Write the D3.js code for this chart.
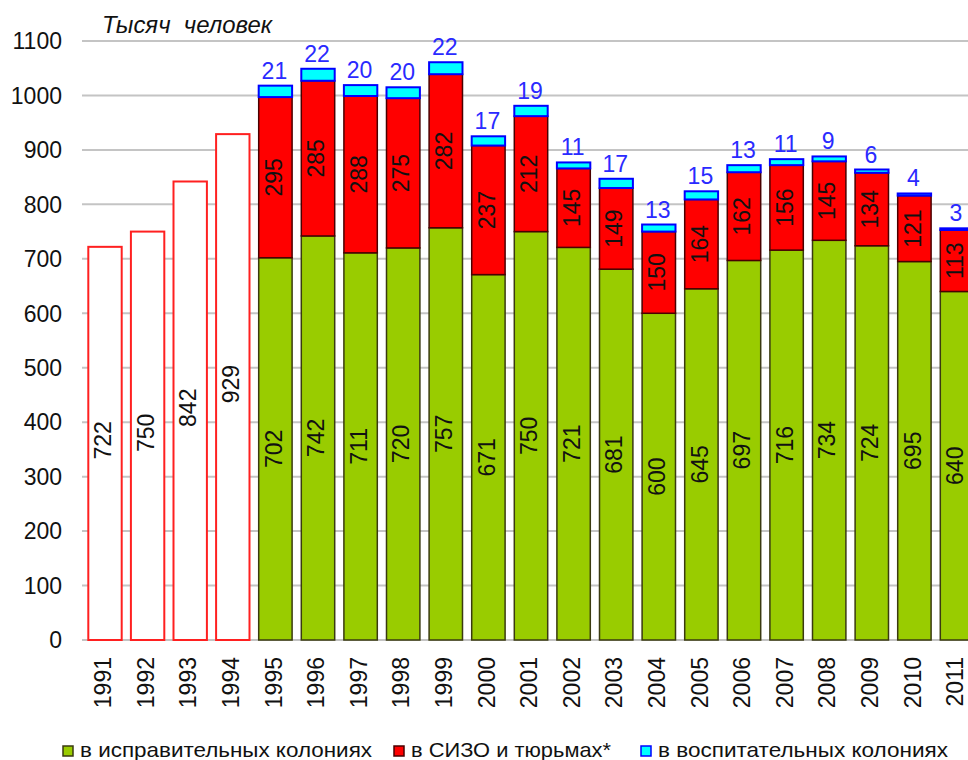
<!DOCTYPE html>
<html>
<head>
<meta charset="utf-8">
<script src="https://cdn.jsdelivr.net/npm/d3@7"></script>
<style>
  body { margin: 0; background: #fff; }
  text { font-family: "Liberation Sans", Arial, sans-serif; }
</style>
</head>
<body>
<div id="chart"></div>
<script>
// years on the x axis
const years = ['1991', '1992', '1993', '1994', '1995', '1996', '1997', '1998', '1999', '2000',
  '2001', '2002', '2003', '2004', '2005', '2006', '2007', '2008', '2009', '2010', '2011'];
// 1991-1994: only the total is known
const total_years = ['1991', '1992', '1993', '1994'];
const total_values = [722, 750, 842, 929];
// 1995-2011: split by type of institution
const split_years = ['1995', '1996', '1997', '1998', '1999', '2000', '2001', '2002', '2003',
  '2004', '2005', '2006', '2007', '2008', '2009', '2010', '2011'];
const colonies = [702, 742, 711, 720, 757, 671, 750, 721, 681, 600, 645, 697, 716, 734, 724, 695, 640];
const sizo = [295, 285, 288, 275, 282, 237, 212, 145, 149, 150, 164, 162, 156, 145, 134, 121, 113];
const juvenile = [21, 22, 20, 20, 22, 17, 19, 11, 17, 13, 15, 13, 11, 9, 6, 4, 3];
const y_ticks = [0, 100, 200, 300, 400, 500, 600, 700, 800, 900, 1000, 1100];
const series_names = ['в исправительных колониях', 'в СИЗО и тюрьмах*', 'в воспитательных колониях'];

const svg_width = 968,
  svg_height = 760;
const label_size = 23;

const svg = d3.select('#chart')
  .append('svg')
  .attr('width', svg_width)
  .attr('height', svg_height);

const x = d3.scaleBand()
  .domain(years)
  .range([83.7, 83.7 + 21 * 42.6])
  .paddingInner(0.216)
  .paddingOuter(0.108);

const y = d3.scaleLinear()
  .domain([0, 1100])
  .range([640, 41]);

// centre of a bar, labels sit a bit to the left of it
function mid(year) {
  return x(year) + x.bandwidth() / 2 - 2;
}

// gridlines
svg.append('g')
  .selectAll('line')
  .data(y_ticks)
  .enter()
  .append('line')
  .attr('x1', 82)
  .attr('x2', svg_width)
  .attr('y1', d => y(d))
  .attr('y2', d => y(d))
  .attr('stroke', '#c4c4c4')
  .attr('stroke-width', 2);

// y tick labels
svg.append('g')
  .selectAll('text')
  .data(y_ticks)
  .enter()
  .append('text')
  .attr('x', 62)
  .attr('y', d => y(d))
  .attr('dy', '0.36em')
  .attr('text-anchor', 'end')
  .attr('font-size', 23)
  .attr('fill', '#111')
  .text(d => d);

svg.append('text')
  .attr('x', 102)
  .attr('y', 33)
  .attr('font-size', 23)
  .attr('font-style', 'italic')
  .attr('fill', '#111')
  .attr('xml:space', 'preserve')
  .attr('textLength', 170)
  .attr('lengthAdjust', 'spacingAndGlyphs')
  .text('Тысяч  человек');

// x tick labels
svg.append('g')
  .selectAll('text')
  .data(years)
  .enter()
  .append('text')
  .attr('transform', d => 'translate(' + mid(d) + ',657) rotate(-90)')
  .attr('dy', '0.36em')
  .attr('text-anchor', 'end')
  .attr('font-size', label_size)
  .attr('fill', '#111')
  .text(d => d);

// total bars 1991-1994
const totals = total_years.map((d, i) => ({ year: d, value: total_values[i] }));
svg.append('g')
  .selectAll('rect')
  .data(totals)
  .enter()
  .append('rect')
  .attr('x', d => x(d.year))
  .attr('y', d => y(d.value))
  .attr('width', x.bandwidth())
  .attr('height', d => y(0) - y(d.value))
  .attr('fill', '#fff')
  .attr('stroke', '#ff2020')
  .attr('stroke-width', 2);

svg.append('g')
  .selectAll('text')
  .data(totals)
  .enter()
  .append('text')
  .attr('transform', d => 'translate(' + mid(d.year) + ',' + (y(d.value / 2) - 3) + ') rotate(-90)')
  .attr('dy', '0.36em')
  .attr('text-anchor', 'middle')
  .attr('font-size', label_size)
  .attr('fill', '#111')
  .text(d => d.value);

// stacked bars 1995-2011
const rows = split_years.map((d, i) => ({ year: d, colonies: colonies[i], sizo: sizo[i], juvenile: juvenile[i] }));
const keys = ['colonies', 'sizo', 'juvenile'];
const fills = { colonies: '#99cc00', sizo: '#ff0000', juvenile: '#00ffff' };
const strokes = { colonies: '#3a3a10', sizo: '#4a0000', juvenile: '#0000ff' };
const stacked = d3.stack().keys(keys)(rows);

stacked.forEach(function (layer) {
  svg.append('g')
    .selectAll('rect')
    .data(layer)
    .enter()
    .append('rect')
    .attr('x', d => x(d.data.year))
    .attr('y', d => y(d[1]))
    .attr('width', x.bandwidth())
    .attr('height', d => y(d[0]) - y(d[1]))
    .attr('fill', fills[layer.key])
    .attr('stroke', strokes[layer.key])
    .attr('stroke-width', layer.key == 'juvenile' ? 2 : 1.5);
});

// labels inside green and red segments
stacked.slice(0, 2).forEach(function (layer) {
  svg.append('g')
    .selectAll('text')
    .data(layer)
    .enter()
    .append('text')
    .attr('transform', d => 'translate(' + mid(d.data.year) + ',' + y((d[0] + d[1]) / 2) + ') rotate(-90)')
    .attr('dy', '0.36em')
    .attr('text-anchor', 'middle')
    .attr('font-size', label_size)
    .attr('fill', '#111')
    .text(d => d.data[layer.key]);
});

// blue labels on top
svg.append('g')
  .selectAll('text')
  .data(stacked[2])
  .enter()
  .append('text')
  .attr('x', d => mid(d.data.year) + 1)
  .attr('y', d => y(d[1]) - 7)
  .attr('text-anchor', 'middle')
  .attr('font-size', label_size)
  .attr('fill', '#2a2aff')
  .text(d => d.data.juvenile);

// legend
const legend_x = [63, 394, 641];
const legend_w = [292, 200, 290];
const legend = svg.append('g')
  .selectAll('g')
  .data(keys)
  .enter()
  .append('g');

legend.append('rect')
  .attr('x', (d, i) => legend_x[i])
  .attr('y', 746)
  .attr('width', 10)
  .attr('height', 10)
  .attr('fill', d => fills[d])
  .attr('stroke', d => d == 'juvenile' ? '#0000ff' : strokes[d])
  .attr('stroke-width', 1.5);

legend.append('text')
  .attr('x', (d, i) => legend_x[i] + 17)
  .attr('y', 757)
  .attr('font-size', 21)
  .attr('fill', '#111')
  .attr('textLength', (d, i) => legend_w[i])
  .attr('lengthAdjust', 'spacingAndGlyphs')
  .text((d, i) => series_names[i]);
</script>
</body>
</html>
